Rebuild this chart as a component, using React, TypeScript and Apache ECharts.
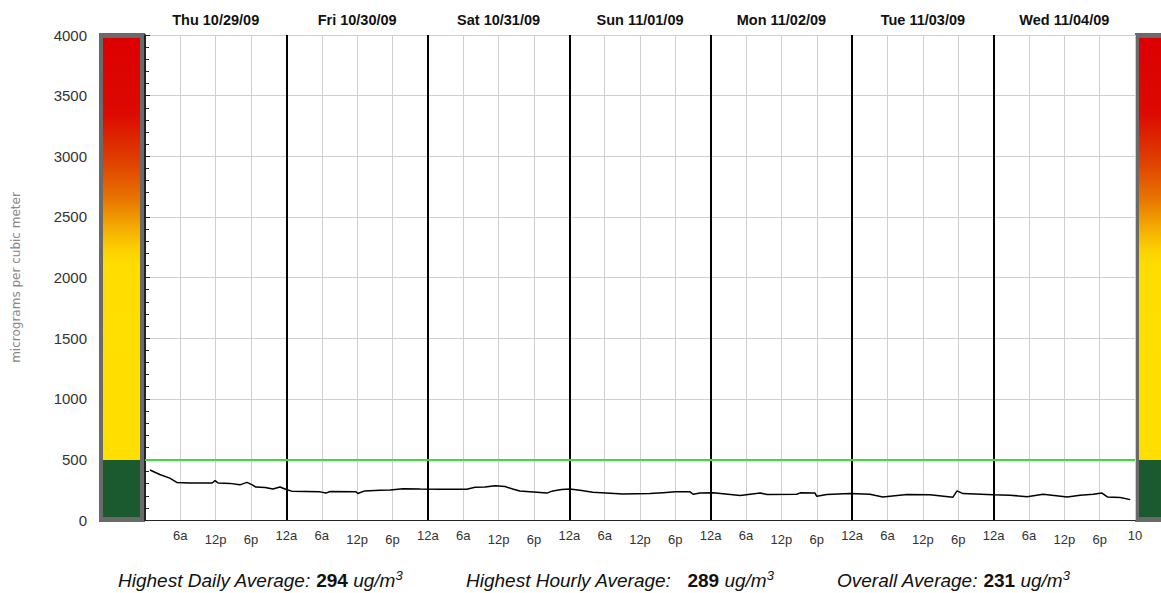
import React, { useEffect, useRef } from "react";
import * as echarts from "echarts";

const dayLabels = ["Thu 10/29/09", "Fri 10/30/09", "Sat 10/31/09", "Sun 11/01/09", "Mon 11/02/09", "Tue 11/03/09", "Wed 11/04/09"];
const hourTickLabels = ["", "6a", "12p", "6p", "12a", "6a", "12p", "6p", "12a", "6a", "12p", "6p", "12a", "6a", "12p", "6p", "12a", "6a", "12p", "6p", "12a", "6a", "12p", "6p", "12a", "6a", "12p", "6p", "10"];
const dayBoundaries = [24, 48, 72, 96, 120, 144];
const thresholdValue = 500;

const hours = [0.85, 2.5, 4.2, 5.4, 7.6, 11.4, 11.9, 12.4, 14.4, 16.1, 17.3, 18.2, 18.8, 20.4, 21.7, 22.9, 24.1, 24.9, 29.7, 30.7, 31.4, 35.8, 36.1, 37.3, 39.9, 41.6, 43.8, 46.7, 50.1, 54.6, 56.0, 57.7, 59.4, 61.1, 62.4, 63.6, 68.2, 69.2, 70.7, 72.1, 73.8, 76.0, 81.1, 85.7, 87.9, 90.0, 92.5, 93.0, 94.2, 96.4, 101.0, 104.4, 105.6, 110.6, 111.2, 113.7, 114.0, 115.7, 119.6, 123.0, 125.2, 129.3, 133.2, 137.1, 137.8, 138.8, 143.9, 146.8, 149.7, 152.4, 156.5, 158.7, 160.9, 162.4, 163.3, 165.5, 167.2];
const concentrations = [412, 375, 345, 310, 305, 305, 325, 305, 302, 290, 310, 290, 272, 268, 255, 272, 250, 238, 232, 222, 235, 233, 218, 240, 245, 248, 258, 255, 254, 254, 270, 272, 283, 276, 255, 240, 222, 240, 252, 255, 245, 228, 215, 218, 225, 232, 232, 212, 222, 225, 202, 222, 210, 212, 224, 222, 195, 210, 218, 212, 190, 210, 208, 188, 240, 218, 208, 205, 192, 212, 190, 205, 212, 222, 190, 185, 168];

const stats = [
  { label: "Highest Daily Average: ", value: "294" },
  { label: "Highest Hourly Average:   ", value: "289" },
  { label: "Overall Average: ", value: "231" },
];

export default function App() {
  const ref = useRef<HTMLDivElement>(null);
  useEffect(() => {
    if (!ref.current) return;
    const chart = echarts.init(ref.current, null, { renderer: "svg" });
    const font = "Liberation Sans, Arial, sans-serif";
    const gradient = new echarts.graphic.LinearGradient(0, 0, 0, 1, [
      { offset: 0, color: "#dc0000" },
      { offset: 0.18, color: "#dc0a00" },
      { offset: 0.3, color: "#e04400" },
      { offset: 0.38, color: "#e87400" },
      { offset: 0.44, color: "#f2a400" },
      { offset: 0.5, color: "#fbd000" },
      { offset: 0.54, color: "#ffdd00" },
      { offset: 1, color: "#ffdf00" },
    ]);
    const bar = (x: number, w: number) => [
      { type: "rect", shape: { x, y: 33, width: w, height: 489 }, style: { fill: "#6a6a6a" }, silent: true },
      { type: "rect", shape: { x: x + 4, y: 38, width: w - 9, height: 422 }, style: { fill: gradient }, silent: true },
      { type: "rect", shape: { x: x + 4, y: 460, width: w - 9, height: 57 }, style: { fill: "#1b5a2f" }, silent: true },
    ];
    const statX = [118, 466, 837];
    chart.setOption({
      animation: false,
      backgroundColor: "#fff",
      grid: { left: 145, right: 26, top: 35, bottom: 73 },
      xAxis: [
        {
          type: "value",
          min: 0,
          max: 168,
          interval: 6,
          axisLine: { show: true, lineStyle: { color: "#222", width: 1 } },
          axisTick: { show: false },
          axisLabel: {
            margin: 9,
            fontSize: 13,
            color: "#333",
            fontFamily: font,
            showMinLabel: true,
            showMaxLabel: true,
            formatter: (v: number) => {
              const t = hourTickLabels[Math.round(v / 6)] ?? "";
              return t.endsWith("p") ? `{p|${t}}` : t;
            },
            rich: {
              p: { fontSize: 13, color: "#333", fontFamily: font, padding: [4, 0, 0, 0] },
            },
          },
          splitLine: { show: true, lineStyle: { color: "#cfcfcf", width: 1 } },
        },
        {
          type: "category",
          position: "top",
          data: dayLabels,
          boundaryGap: true,
          axisLine: { show: false },
          axisTick: { show: false },
          splitLine: { show: false },
          axisLabel: { margin: 8, fontSize: 14.5, fontWeight: "bold", color: "#111", fontFamily: font },
        },
      ],
      yAxis: {
        type: "value",
        min: 0,
        max: 4000,
        interval: 500,
        name: "micrograms per cubic meter",
        nameLocation: "middle",
        nameRotate: 90,
        nameGap: 123,
        nameTextStyle: { color: "#888", fontSize: 12, fontFamily: "DejaVu Sans, Verdana, sans-serif" },
        axisLine: { show: true, lineStyle: { color: "#222", width: 2 } },
        axisTick: { show: true, inside: true, length: 5, lineStyle: { color: "#222" } },
        minorTick: { show: true, splitNumber: 5, length: 4, lineStyle: { color: "#222" } },
        axisLabel: { margin: 58, fontSize: 15, color: "#333", fontFamily: font, formatter: (v: number) => String(v) },
        splitLine: { show: true, lineStyle: { color: "#cfcfcf", width: 1 } },
      },
      series: [
        {
          type: "line",
          data: hours.map((h, i) => [h, concentrations[i]]),
          showSymbol: false,
          lineStyle: { color: "#000", width: 1.5 },
          z: 5,
          markLine: {
            silent: true,
            symbol: "none",
            label: { show: false },
            data: [
              ...dayBoundaries.map((d) => ({ xAxis: d, lineStyle: { color: "#000", width: 2, type: "solid" } })),
              { yAxis: thresholdValue, lineStyle: { color: "#3ddc3d", width: 2, type: "solid" } },
            ],
          },
        },
      ],
      graphic: [
        ...bar(99, 46),
        ...bar(1135, 36),
        ...stats.map((s, i) => ({
          type: "text",
          x: statX[i],
          y: 569,
          silent: true,
          style: {
            text: `{l|${s.label}}{b|${s.value}}{u| ug/m}{s|3}`,
            rich: {
              l: { fontSize: 19, lineHeight: 21, fontStyle: "italic", fontFamily: font, fill: "#111", verticalAlign: "bottom" },
              b: { fontSize: 19, lineHeight: 21, fontWeight: "bold", fontFamily: font, fill: "#111", verticalAlign: "bottom" },
              u: { fontSize: 19, lineHeight: 21, fontStyle: "italic", fontFamily: font, fill: "#111", verticalAlign: "bottom" },
              s: { fontSize: 13, fontStyle: "italic", fontFamily: font, fill: "#111", verticalAlign: "top", padding: [0, 0, 8, 0] },
            },
          },
        })),
      ],
    });
    return () => chart.dispose();
  }, []);
  return <div ref={ref} style={{ position: "fixed", left: 0, top: 0, width: 1161, height: 593 }} />;
}
